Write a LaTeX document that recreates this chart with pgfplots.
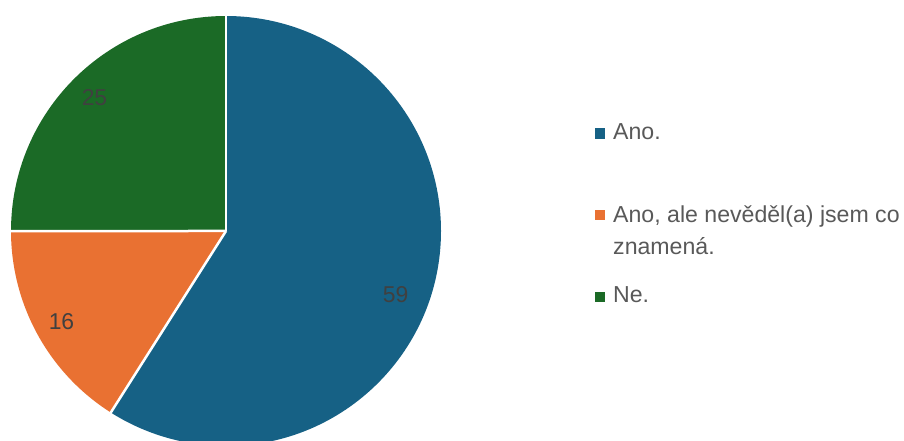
\documentclass[border=0pt]{standalone}
\usepackage{pgfplots}
\pgfplotsset{compat=1.18}
\usepackage{pgfplotstable}
\usepackage{fontspec}
\setmainfont{Liberation Sans}
\definecolor{cBlue}{HTML}{166185}
\definecolor{cOrange}{HTML}{E97132}
\definecolor{cGreen}{HTML}{1B6A26}
\definecolor{txt}{HTML}{595959}
\definecolor{lab}{HTML}{404040}

\pgfplotstableread{
value
59
16
25
}\piedata

\begin{document}
\begin{tikzpicture}
\useasboundingbox (0,0) rectangle (904bp,441bp);
\begin{axis}[
  at={(0,0)}, anchor=south west,
  width=904bp, height=441bp, scale only axis,
  xmin=0, xmax=904, ymin=0, ymax=441,
  hide axis, clip=true,
]
\pgfplotstablegetelem{0}{value}\of\piedata \edef\va{\pgfplotsretval}
\pgfplotstablegetelem{1}{value}\of\piedata \edef\vb{\pgfplotsretval}
\pgfplotstablegetelem{2}{value}\of\piedata \edef\vc{\pgfplotsretval}
\pgfmathsetmacro\tot{\va+\vb+\vc}
\pgfmathsetmacro\aA{90-(\va/\tot)*360}
\pgfmathsetmacro\aB{\aA-(\vb/\tot)*360}
\pgfmathsetmacro\aC{\aB-(\vc/\tot)*360}
% slices
\fill[cBlue] (axis cs:226,210) -- ++(90:215bp) arc[start angle=90,end angle=\aA,radius=215bp] -- cycle;
\fill[cOrange] (axis cs:226,210) -- ++(\aA:215bp) arc[start angle=\aA,end angle=\aB,radius=215bp] -- cycle;
\fill[cGreen] (axis cs:226,210) -- ++(\aB:215bp) arc[start angle=\aB,end angle=\aC,radius=215bp] -- cycle;
% separators
\draw[white,line width=2.5bp] (axis cs:226,210) -- ++(90:217bp);
\draw[white,line width=2.5bp] (axis cs:226,210) -- ++(\aA:217bp);
\draw[white,line width=2.5bp] (axis cs:226,210) -- ++(\aB:217bp);
% data labels
\node[text=lab,inner sep=0pt,font=\fontsize{23}{23}\selectfont] at (axis cs:395.5,146.3) {\va};
\node[text=lab,inner sep=0pt,font=\fontsize{23}{23}\selectfont] at (axis cs:61.5,119.5) {\vb};
\node[text=lab,inner sep=0pt,font=\fontsize{23}{23}\selectfont] at (axis cs:94.5,343) {\vc};
% legend
\fill[cBlue] (axis cs:594.5,302) rectangle (axis cs:605,312.5);
\node[text=txt,inner sep=0pt,anchor=base west,font=\fontsize{23.2}{23.2}\selectfont] at (axis cs:613,301.7) {Ano.};
\fill[cOrange] (axis cs:594.5,220.5) rectangle (axis cs:605,231);
\node[text=txt,inner sep=0pt,anchor=base west,font=\fontsize{23.2}{23.2}\selectfont] at (axis cs:613,218.7) {Ano, ale nevěděl(a) jsem co};
\node[text=txt,inner sep=0pt,anchor=base west,font=\fontsize{23.2}{23.2}\selectfont] at (axis cs:613,186) {znamená.};
\fill[cGreen] (axis cs:594.5,138.5) rectangle (axis cs:605,149);
\node[text=txt,inner sep=0pt,anchor=base west,font=\fontsize{23.2}{23.2}\selectfont] at (axis cs:613,138.3) {Ne.};
\end{axis}
\end{tikzpicture}
\end{document}
